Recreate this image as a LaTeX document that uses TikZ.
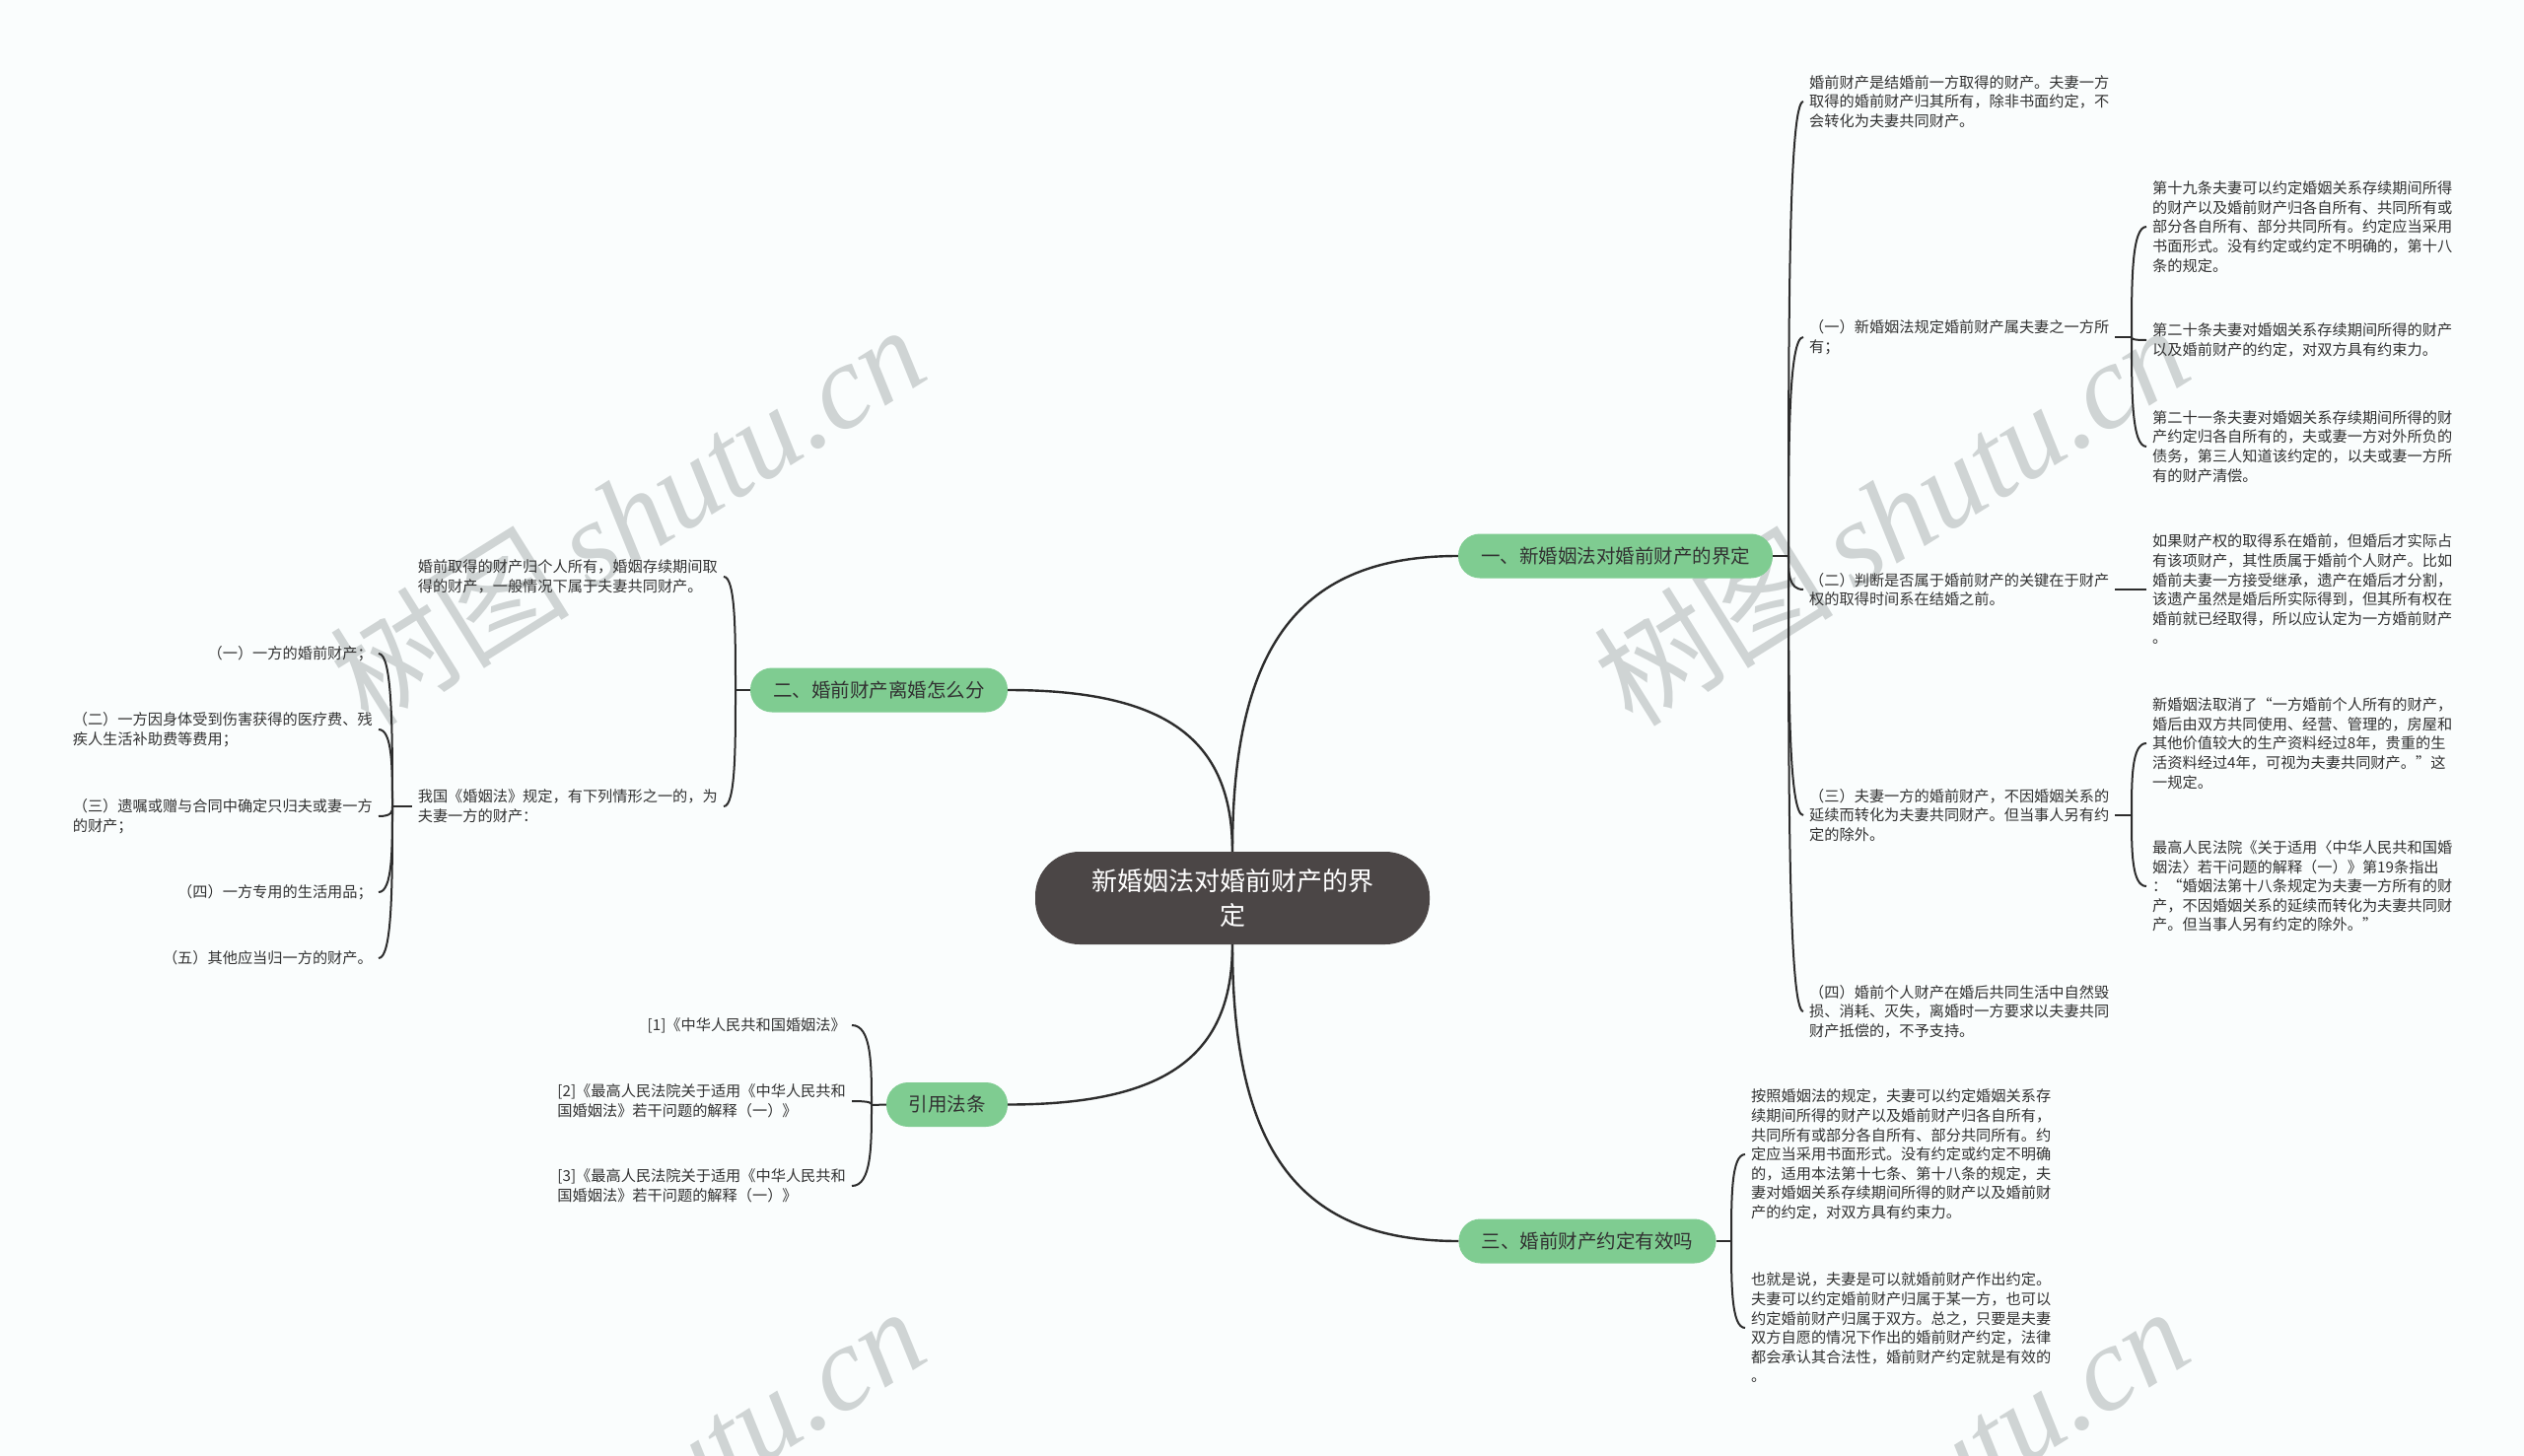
\documentclass[tikz,border=0pt]{standalone}
\usepackage{fontspec}
\setmainfont{Noto Sans CJK SC}
\newfontfamily\wmserif{Liberation Serif}
\usetikzlibrary{calc}
\definecolor{bgc}{RGB}{250,253,253}
\definecolor{rootc}{RGB}{75,70,70}
\definecolor{greenc}{RGB}{127,204,145}
\definecolor{linec}{RGB}{45,45,45}
\definecolor{txtc}{RGB}{50,50,50}
\definecolor{wmc}{RGB}{207,212,212}
\tikzset{
  conn/.style={draw=linec, line width=2pt},
  rootnode/.style={fill=rootc, text=white, rounded corners=45pt, minimum width=400pt, minimum height=94pt, align=center, inner sep=0pt, font=\fontsize{26}{35}\selectfont},
  branch/.style={fill=greenc, text=txtc, rounded corners=22pt, minimum height=45pt, inner sep=0pt, font=\fontsize{19.5}{24}\selectfont},
  leaf/.style={text=txtc, align=left, inner xsep=6pt, inner ysep=2pt, font=\fontsize{15.2}{19.6}\selectfont},
  wm/.style={text=wmc, inner sep=0pt, font=\fontsize{122}{128}\selectfont}
}
\newcommand\brcon[2]{\draw[conn] (#1) .. controls ($(#1)!0.5!(#1|-#2)$) and (#1|-#2) .. (#2);}
\newcommand\rootcon[2]{\draw[conn, line width=2.4pt] (#1) .. controls ($(#1)!0.7!(#1|-#2)$) and ($(#1|-#2)!0.3!(#2)$) .. (#2);}
\begin{document}
\begin{tikzpicture}[x=1pt,y=-1pt]
\useasboundingbox (0,0) rectangle (2560,1477);
\fill[bgc] (0,0) rectangle (2560,1477);
% watermarks
\begin{scope}
\clip (0,0) rectangle (2560,1477);
\node[wm, anchor=base west, rotate=32] (wm1) at (374,740) {树图\,{\wmserif\itshape shutu.cn}};
\node[wm, anchor=base west, rotate=32] (wm2) at (1656,740) {树图\,{\wmserif\itshape shutu.cn}};
\node[wm, anchor=base west, rotate=32] (wm3) at (374,1736) {树图\,{\wmserif\itshape shutu.cn}};
\node[wm, anchor=base west, rotate=32] (wm4) at (1656,1736) {树图\,{\wmserif\itshape shutu.cn}};
\end{scope}

% root and branches
\node[rootnode] (root) at (1250,911) {新婚姻法对婚前财产的界\\定};
\node[branch, minimum width=319pt] (B1) at (1638.5,564) {一、新婚姻法对婚前财产的界定};
\node[branch, minimum width=261pt] (B2) at (891.5,700) {二、婚前财产离婚怎么分};
\node[branch, minimum width=123pt] (B3) at (960.5,1120.5) {引用法条};
\node[branch, minimum width=261pt] (B4) at (1610,1259) {三、婚前财产约定有效吗};

\rootcon{root.north}{B1.west}
\rootcon{root.north}{B2.east}
\rootcon{root.south}{B3.east}
\rootcon{root.south}{B4.west}

% branch 1 children
\node[leaf, anchor=west] (c1) at (1829,103) {婚前财产是结婚前一方取得的财产。夫妻一方\\取得的婚前财产归其所有，除非书面约定，不\\会转化为夫妻共同财产。};
\node[leaf, anchor=west] (c2) at (1829,342) {（一）新婚姻法规定婚前财产属夫妻之一方所\\有；};
\node[leaf, anchor=west] (c3) at (1829,598) {（二）判断是否属于婚前财产的关键在于财产\\权的取得时间系在结婚之前。};
\node[leaf, anchor=west] (c4) at (1829,827) {（三）夫妻一方的婚前财产，不因婚姻关系的\\延续而转化为夫妻共同财产。但当事人另有约\\定的除外。};
\node[leaf, anchor=west] (c5) at (1829,1026) {（四）婚前个人财产在婚后共同生活中自然毁\\损、消耗、灭失，离婚时一方要求以夫妻共同\\财产抵偿的，不予支持。};
\coordinate (b1) at (1814,564);
\draw[conn] (B1.east) -- (b1);
\brcon{b1}{c1.west}
\brcon{b1}{c2.west}
\brcon{b1}{c3.west}
\brcon{b1}{c4.west}
\brcon{b1}{c5.west}

% grandchildren
\node[leaf, anchor=west] (g1) at (2177,230) {第十九条夫妻可以约定婚姻关系存续期间所得\\的财产以及婚前财产归各自所有、共同所有或\\部分各自所有、部分共同所有。约定应当采用\\书面形式。没有约定或约定不明确的，第十八\\条的规定。};
\node[leaf, anchor=west] (g2) at (2177,345) {第二十条夫妻对婚姻关系存续期间所得的财产\\以及婚前财产的约定，对双方具有约束力。};
\node[leaf, anchor=west] (g3) at (2177,453) {第二十一条夫妻对婚姻关系存续期间所得的财\\产约定归各自所有的，夫或妻一方对外所负的\\债务，第三人知道该约定的，以夫或妻一方所\\有的财产清偿。};
\coordinate (b2) at (2162,342);
\draw[conn] (c2.east) -- (b2);
\brcon{b2}{g1.west}
\brcon{b2}{g2.west}
\brcon{b2}{g3.west}

\node[leaf, anchor=west] (g4) at (2177,598) {如果财产权的取得系在婚前，但婚后才实际占\\有该项财产，其性质属于婚前个人财产。比如\\婚前夫妻一方接受继承，遗产在婚后才分割，\\该遗产虽然是婚后所实际得到，但其所有权在\\婚前就已经取得，所以应认定为一方婚前财产\\。};
\draw[conn] (c3.east) -- (g4.west);

\node[leaf, anchor=west] (g5) at (2177,754) {新婚姻法取消了“一方婚前个人所有的财产，\\婚后由双方共同使用、经营、管理的，房屋和\\其他价值较大的生产资料经过8年，贵重的生\\活资料经过4年，可视为夫妻共同财产。”这\\一规定。};
\node[leaf, anchor=west] (g6) at (2177,899) {最高人民法院《关于适用〈中华人民共和国婚\\姻法〉若干问题的解释（一）》第19条指出\\：“婚姻法第十八条规定为夫妻一方所有的财\\产，不因婚姻关系的延续而转化为夫妻共同财\\产。但当事人另有约定的除外。”};
\coordinate (b3) at (2162,827);
\draw[conn] (c4.east) -- (b3);
\brcon{b3}{g5.west}
\brcon{b3}{g6.west}

% branch 4 children
\node[leaf, anchor=west] (h1) at (1770,1171) {按照婚姻法的规定，夫妻可以约定婚姻关系存\\续期间所得的财产以及婚前财产归各自所有，\\共同所有或部分各自所有、部分共同所有。约\\定应当采用书面形式。没有约定或约定不明确\\的，适用本法第十七条、第十八条的规定，夫\\妻对婚姻关系存续期间所得的财产以及婚前财\\产的约定，对双方具有约束力。};
\node[leaf, anchor=west] (h2) at (1770,1347) {也就是说，夫妻是可以就婚前财产作出约定。\\夫妻可以约定婚前财产归属于某一方，也可以\\约定婚前财产归属于双方。总之，只要是夫妻\\双方自愿的情况下作出的婚前财产约定，法律\\都会承认其合法性，婚前财产约定就是有效的\\。};
\coordinate (b4) at (1756,1259);
\draw[conn] (B4.east) -- (b4);
\brcon{b4}{h1.west}
\brcon{b4}{h2.west}

% branch 2 children
\node[leaf, anchor=east] (k1) at (734,585) {婚前取得的财产归个人所有，婚姻存续期间取\\得的财产，一般情况下属于夫妻共同财产。};
\node[leaf, anchor=east] (k2) at (734,818) {我国《婚姻法》规定，有下列情形之一的，为\\夫妻一方的财产：};
\coordinate (b5) at (746,700);
\draw[conn] (B2.west) -- (b5);
\brcon{b5}{k1.east}
\brcon{b5}{k2.east}

\node[leaf, anchor=east] (m1) at (384,663) {（一）一方的婚前财产；};
\node[leaf, anchor=east] (m2) at (384,740) {（二）一方因身体受到伤害获得的医疗费、残\\疾人生活补助费等费用；};
\node[leaf, anchor=east] (m3) at (384,828) {（三）遗嘱或赠与合同中确定只归夫或妻一方\\的财产；};
\node[leaf, anchor=east] (m4) at (384,905) {（四）一方专用的生活用品；};
\node[leaf, anchor=east] (m5) at (384,972) {（五）其他应当归一方的财产。};
\coordinate (b6) at (398,818);
\draw[conn] (k2.west) -- (b6);
\brcon{b6}{m1.east}
\brcon{b6}{m2.east}
\brcon{b6}{m3.east}
\brcon{b6}{m4.east}
\brcon{b6}{m5.east}

% branch 3 children
\node[leaf, anchor=east] (r1) at (864,1040) {[1]《中华人民共和国婚姻法》};
\node[leaf, anchor=east] (r2) at (864,1117) {[2]《最高人民法院关于适用《中华人民共和\\国婚姻法》若干问题的解释（一）》};
\node[leaf, anchor=east] (r3) at (864,1203) {[3]《最高人民法院关于适用《中华人民共和\\国婚姻法》若干问题的解释（一）》};
\coordinate (b7) at (884,1121);
\draw[conn] (B3.west) -- (b7);
\brcon{b7}{r1.east}
\brcon{b7}{r2.east}
\brcon{b7}{r3.east}
\end{tikzpicture}
\end{document}
